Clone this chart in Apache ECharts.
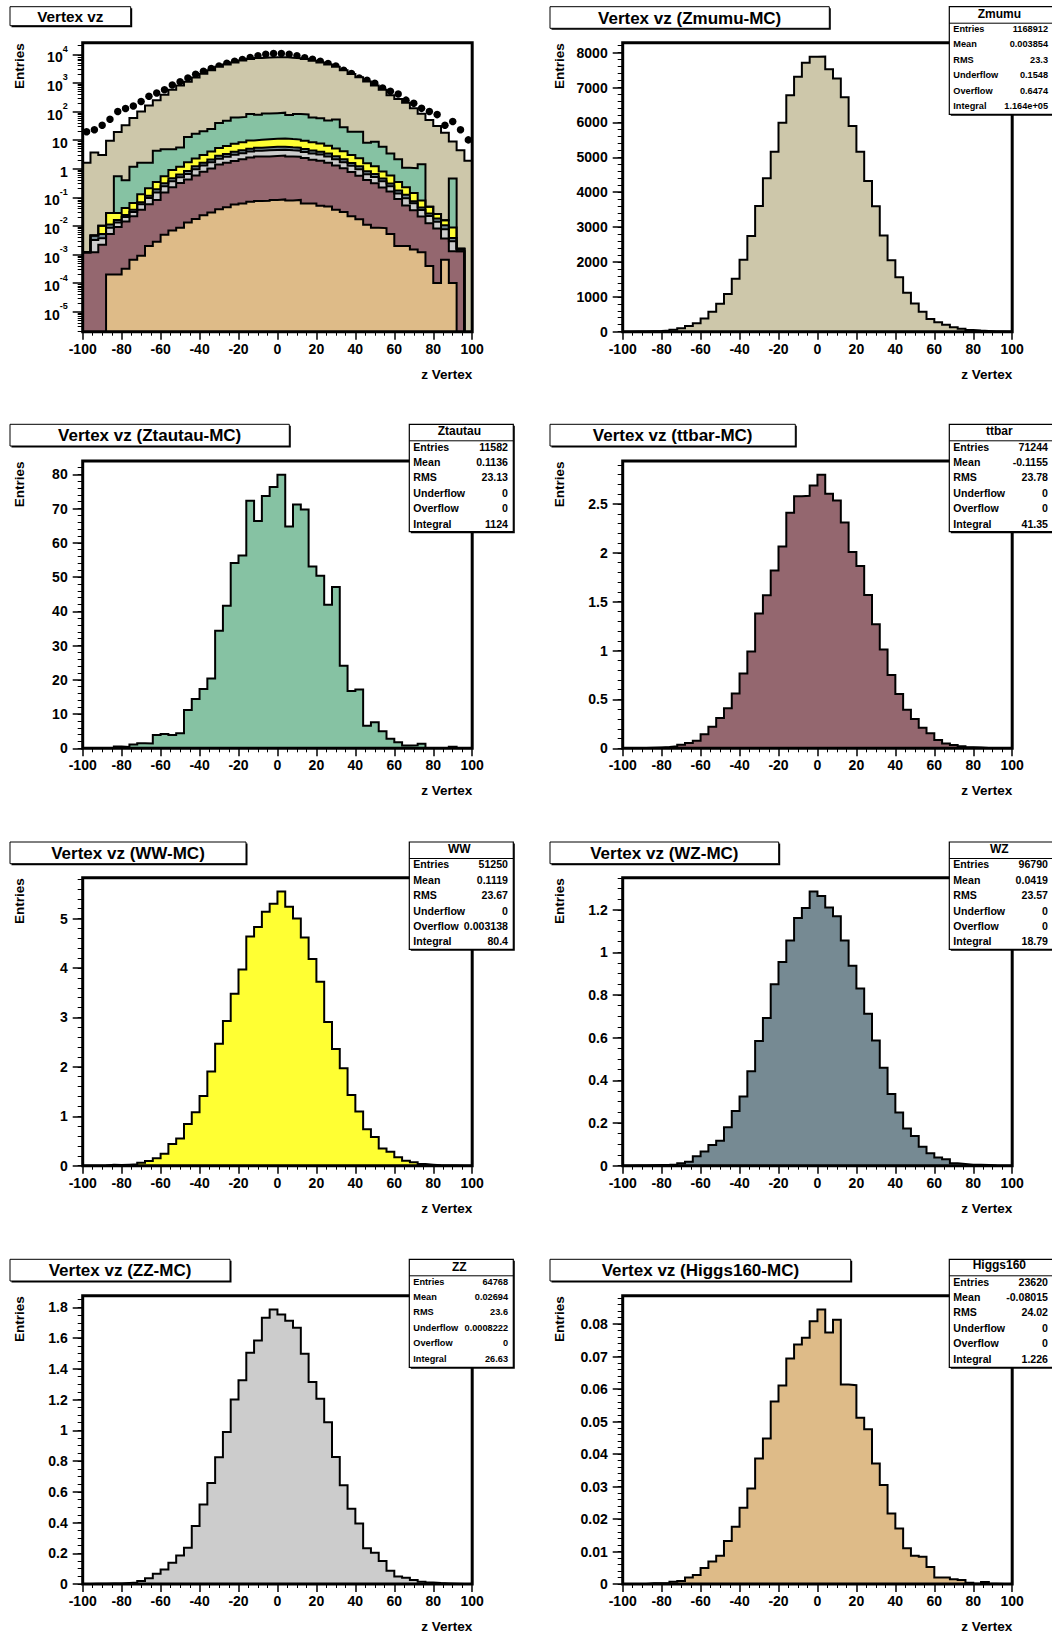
<!DOCTYPE html>
<html>
<head>
<meta charset="utf-8">
<title>Vertex vz</title>
<script src="https://cdn.jsdelivr.net/npm/echarts@6/dist/echarts.min.js"></script>
<style>
  html, body { margin: 0; padding: 0; background: #fff; }
  #main { width: 1052px; height: 1634px; }
</style>
</head>
<body>
<div id="main"></div>
<script>
// ---------- histogram binning (50 bins of 4 cm between -100 and 100) ----------
const BIN_EDGES = [-100,-96,-92,-88,-84,-80,-76,-72,-68,-64,-60,-56,-52,-48,-44,-40,-36,-32,-28,-24,
  -20,-16,-12,-8,-4,0,4,8,12,16,20,24,28,32,36,40,44,48,52,56,60,64,68,72,76,80,84,88,92,96,100];

// ---------- bin contents per sample ----------
const zmumu = [1.6,3.7,3.0,9.4,18.5,32.6,58,98,160,245,
  380,575,800,1080,1520,2065,2745,3605,4400,5160,
  5990,6780,7310,7710,7880,7890,7520,7260,6720,5900,
  5160,4320,3595,2760,2045,1560,1120,810,575,365,
  270,200,128,82,50,31,18,8.5,4.4,1.9];

const ztautau = [0,0,0,0,0.52,0.35,1.1,1.5,1.4,3.9,
  4.2,3.9,4.4,11.2,14.4,17.3,20.4,34.3,41.6,54.1,
  56.3,72.3,66.4,73.7,76.3,79.9,64.8,71.2,69.7,53.1,
  50.4,41.9,47.1,24.1,16.7,17.2,6.6,7.6,5.0,2.8,
  1.8,0.85,0.9,1.35,0,0,0,0.45,0,0];

const ttbar = [0.0012,0.0012,0.0022,0.005,0.009,0.014,0.021,0.036,0.055,0.078,
  0.143,0.22,0.31,0.41,0.56,0.765,0.99,1.38,1.565,1.82,
  2.065,2.41,2.58,2.585,2.69,2.80,2.605,2.535,2.31,2.01,
  1.865,1.57,1.27,1.01,0.75,0.555,0.395,0.30,0.21,0.153,
  0.085,0.05,0.034,0.02,0.012,0.008,0.003,0.0012,0.0013,0];

const ww = [0,0,0.005,0.017,0.012,0.018,0.027,0.06,0.095,0.15,
  0.24,0.44,0.55,0.845,1.08,1.41,1.905,2.47,2.93,3.48,
  3.97,4.64,4.83,5.14,5.30,5.55,5.24,5.0,4.62,4.18,
  3.72,2.91,2.36,1.97,1.43,1.095,0.74,0.58,0.35,0.28,
  0.17,0.10,0.07,0.033,0.019,0.008,0.005,0.005,0,0];

const wz = [0,0.0014,0.0015,0.0025,0.003,0.004,0.006,0.011,0.019,0.044,
  0.066,0.097,0.117,0.18,0.257,0.324,0.443,0.585,0.692,0.851,
  0.955,1.056,1.161,1.208,1.286,1.264,1.211,1.169,1.056,0.937,
  0.831,0.712,0.587,0.459,0.336,0.25,0.175,0.139,0.089,0.058,
  0.039,0.03,0.011,0.008,0.005,0.004,0.003,0.0009,0.0003,0];

const zz = [0,0.002,0.0015,0.0035,0.004,0.006,0.009,0.02,0.037,0.067,
  0.095,0.139,0.186,0.236,0.377,0.518,0.658,0.825,0.99,1.20,
  1.326,1.505,1.585,1.733,1.787,1.754,1.713,1.668,1.499,1.315,
  1.206,1.053,0.827,0.643,0.49,0.394,0.232,0.204,0.149,0.087,
  0.048,0.041,0.026,0.015,0.01,0.006,0.004,0.0016,0,0];

const higgs160 = [0,0,0,0.0002,0.0002,0.00032,0.00066,0.0009,0.002,0.0028,
  0.0049,0.0069,0.0087,0.0132,0.0176,0.0235,0.0294,0.0386,0.0448,0.0562,
  0.0611,0.0694,0.0737,0.0758,0.0809,0.0845,0.0774,0.0813,0.0614,0.0612,
  0.0512,0.0476,0.0371,0.0305,0.0217,0.0171,0.011,0.0087,0.0084,0.0052,
  0.002,0.002,0.0015,0.0012,0.0004,0.0001,0.00065,0.0001,0,0];

// observed events, drawn as markers on the stacked plot
const observed = [19.5,23,33,54,100,128,155,225,340,445,
  580,850,1100,1490,2000,2570,3170,3920,4870,5740,
  6590,7740,8880,10000,10700,10700,10100,8900,7530,6750,
  5740,4750,3910,2770,2120,1490,1230,970,665,510,
  410,250,193,129,100,78,33,45,23,10.2];

// ---------- statistics boxes ----------
const STAT_LABELS = ['Entries', 'Mean', 'RMS', 'Underflow', 'Overflow', 'Integral'];
const STATS_ZMUMU   = ['1168912', '0.003854', '23.3', '0.1548', '0.6474', '1.164e+05'];
const STATS_ZTAUTAU = ['11582', '0.1136', '23.13', '0', '0', '1124'];
const STATS_TTBAR   = ['71244', '-0.1155', '23.78', '0', '0', '41.35'];
const STATS_WW      = ['51250', '0.1119', '23.67', '0', '0.003138', '80.4'];
const STATS_WZ      = ['96790', '0.0419', '23.57', '0', '0', '18.79'];
const STATS_ZZ      = ['64768', '0.02694', '23.6', '0.0008222', '0', '26.63'];
const STATS_HIGGS   = ['23620', '-0.08015', '24.02', '0', '0', '1.226'];

// ---------- axis ticks ----------
const X_TICK_STEP = 20;
const LOG_TICKS = [1e-5, 1e-4, 1e-3, 1e-2, 1e-1, 1, 10, 100, 1000, 10000];
const LOG_RANGE = [2e-6, 2.55e4];

// ---------- style ----------
const FONT = '"Liberation Sans", Arial, Helvetica, sans-serif';
const COLORS = {
  zmumu: '#cdc7aa', ztautau: '#86c2a3', ttbar: '#94676f', ww: '#ffff33',
  wz: '#768a93', zz: '#cccccc', higgs160: '#debb88'
};

// ---------- layout (pixels) ----------
const COL_X = [82.7, 622.7];
const PLOT_W = 389.5;
const ROW_Y = [42.7, 461, 877.7, 1295.7];
const ROW_H = [289, 287.3, 288, 288.3];

// panel: row, column, title box [x0,y0,x1,y1,fontSize], stats box [x,y,w,h,fontSize,headerY]
const PANELS = [
  { row: 0, col: 0, title: 'Vertex vz', tbox: [10, 6.7, 130.7, 25.7, 15.3], log: true },
  { row: 0, col: 1, title: 'Vertex vz (Zmumu-MC)', tbox: [550, 6.7, 829.3, 28.3, 17],
    values: zmumu, color: COLORS.zmumu, step: 1000, minorDiv: 5,
    statName: 'Zmumu', stats: STATS_ZMUMU, sbox: [949.3, 6.7, 104, 107.6, 9.2, 7.5] },
  { row: 1, col: 0, title: 'Vertex vz (Ztautau-MC)', tbox: [10, 424.3, 289.3, 446, 17],
    values: ztautau, color: COLORS.ztautau, step: 10, minorDiv: 5,
    statName: 'Ztautau', stats: STATS_ZTAUTAU, sbox: [409.3, 424.3, 104, 107.4, 10.6, 7] },
  { row: 1, col: 1, title: 'Vertex vz (ttbar-MC)', tbox: [550, 424.3, 795.3, 446, 17],
    values: ttbar, color: COLORS.ttbar, step: 0.5, minorDiv: 5,
    statName: 'ttbar', stats: STATS_TTBAR, sbox: [949.3, 424.3, 104, 107.4, 10.6, 7] },
  { row: 2, col: 0, title: 'Vertex vz (WW-MC)', tbox: [10, 842, 246, 863.7, 17],
    values: ww, color: COLORS.ww, step: 1, minorDiv: 5,
    statName: 'WW', stats: STATS_WW, sbox: [409.3, 842, 104, 107.3, 10.6, 7] },
  { row: 2, col: 1, title: 'Vertex vz (WZ-MC)', tbox: [550, 842, 778.7, 863.7, 17],
    values: wz, color: COLORS.wz, step: 0.2, minorDiv: 4,
    statName: 'WZ', stats: STATS_WZ, sbox: [949.3, 842, 104, 107.3, 10.6, 7] },
  { row: 3, col: 0, title: 'Vertex vz (ZZ-MC)', tbox: [10, 1259.3, 230, 1281, 17],
    values: zz, color: COLORS.zz, step: 0.2, minorDiv: 4,
    statName: 'ZZ', stats: STATS_ZZ, sbox: [409.3, 1259.3, 104, 108, 9.2, 7.5] },
  { row: 3, col: 1, title: 'Vertex vz (Higgs160-MC)', tbox: [550, 1259.3, 850.7, 1281, 17],
    values: higgs160, color: COLORS.higgs160, step: 0.01, minorDiv: 5,
    statName: 'Higgs160', stats: STATS_HIGGS, sbox: [949.3, 1259.3, 104, 108, 10.6, 5.5] }
];

// stacking order for the combined plot (bottom first)
const STACK = [
  { values: higgs160, color: COLORS.higgs160 },
  { values: ttbar, color: COLORS.ttbar },
  { values: zz, color: COLORS.zz },
  { values: wz, color: COLORS.wz },
  { values: ww, color: COLORS.ww },
  { values: ztautau, color: COLORS.ztautau },
  { values: zmumu, color: COLORS.zmumu }
];

// ---------- helpers ----------
const round6 = v => Number(v.toFixed(7));
const BIN_CENTERS = BIN_EDGES.slice(0, -1).map((e, i) => (e + BIN_EDGES[i + 1]) / 2);

// step outline points: one point per left edge, plus the closing right edge
function stepPoints(vals, floor) {
  return BIN_EDGES.map((x, i) => {
    const v = vals[Math.min(i, vals.length - 1)];
    return [x, floor ? Math.max(v, floor) : v];
  });
}

function histSeries(vals, color, xi, yi, floor) {
  return {
    type: 'line', xAxisIndex: xi, yAxisIndex: yi,
    data: stepPoints(vals, floor), step: 'end', symbol: 'none', clip: true, silent: true,
    lineStyle: { color: '#000', width: 2, join: 'miter' },
    areaStyle: { color: color, opacity: 1, origin: 'start' }
  };
}

const labelStyle = { color: '#000', fontFamily: FONT, fontWeight: 'bold', fontSize: 14 };
const noLine = { show: false, onZero: false };

const grids = [], xAxes = [], yAxes = [], series = [], graphics = [];

PANELS.forEach((p, i) => {
  const left = COL_X[p.col], top = ROW_Y[p.row], h = ROW_H[p.row];
  grids.push({ left: left, top: top, width: PLOT_W, height: h, show: false, containLabel: false });

  xAxes.push({
    type: 'value', gridIndex: i, min: -100, max: 100, interval: X_TICK_STEP, position: 'bottom',
    axisLine: noLine, splitLine: { show: false },
    axisTick: { show: true, inside: false, length: 8, lineStyle: { color: '#000', width: 1.5 } },
    minorTick: { show: true, splitNumber: 4, length: 4, lineStyle: { color: '#000', width: 1 } },
    axisLabel: Object.assign({ margin: 10, showMinLabel: true, showMaxLabel: true }, labelStyle)
  });
});

// main value axes
PANELS.forEach((p, i) => {
  if (p.log) {
    yAxes.push({
      type: 'log', logBase: 10, gridIndex: i, min: LOG_RANGE[0], max: LOG_RANGE[1], position: 'left',
      axisLine: noLine, splitLine: { show: false },
      axisTick: { show: true, length: 10, customValues: LOG_TICKS, lineStyle: { color: '#000', width: 1.5 } },
      axisLabel: Object.assign({}, labelStyle, {
        margin: 15, customValues: LOG_TICKS,
        formatter: v => {
          const n = Math.round(Math.log10(v));
          if (n === 0) return '{b|1}';
          if (n === 1) return '{b|10}';
          return '{b|10}{s|' + n + '}';
        },
        rich: {
          b: { fontFamily: FONT, fontWeight: 'bold', fontSize: 14, lineHeight: 20, verticalAlign: 'bottom', color: '#000' },
          s: { fontFamily: FONT, fontWeight: 'bold', fontSize: 9, lineHeight: 9, verticalAlign: 'top', color: '#000' }
        }
      })
    });
  } else {
    const maxVal = Math.max.apply(null, p.values) * 1.05;
    const major = [];
    for (let k = 0; k * p.step <= maxVal + 1e-12; k++) major.push(round6(k * p.step));
    p._range = [0, maxVal];
    yAxes.push({
      type: 'value', gridIndex: i, min: 0, max: maxVal, position: 'left',
      axisLine: noLine, splitLine: { show: false },
      axisTick: { show: true, length: 10, customValues: major, lineStyle: { color: '#000', width: 1.5 } },
      axisLabel: Object.assign({}, labelStyle, {
        margin: 15, customValues: major, formatter: v => String(round6(v))
      })
    });
  }
});

// secondary axes carrying only the minor ticks
PANELS.forEach((p, i) => {
  const minor = [];
  if (p.log) {
    for (let n = -6; n <= 4; n++) {
      for (let k = 2; k <= 9; k++) {
        const v = Number((k * Math.pow(10, n)).toPrecision(3));
        if (v >= LOG_RANGE[0] && v <= LOG_RANGE[1]) minor.push(v);
      }
    }
  } else {
    const d = p.step / p.minorDiv;
    for (let k = 0; k * d <= p._range[1] + 1e-12; k++) minor.push(round6(k * d));
  }
  yAxes.push({
    type: p.log ? 'log' : 'value', logBase: 10, gridIndex: i,
    min: p.log ? LOG_RANGE[0] : p._range[0], max: p.log ? LOG_RANGE[1] : p._range[1],
    position: 'left', offset: 0, axisLine: noLine, splitLine: { show: false },
    axisLabel: { show: false },
    axisTick: { show: true, length: 5, customValues: minor, lineStyle: { color: '#000', width: 1 } }
  });
});

// ---------- series ----------
// combined plot: cumulative stack, largest drawn first so each smaller layer sits on top
let running = new Array(BIN_CENTERS.length).fill(0);
const cumulative = STACK.map(s => {
  running = running.map((r, b) => r + s.values[b]);
  return { values: running.slice(), color: s.color };
});
for (let k = cumulative.length - 1; k >= 0; k--) {
  series.push(histSeries(cumulative[k].values, cumulative[k].color, 0, 0, 1e-9));
}
series.push({
  type: 'scatter', xAxisIndex: 0, yAxisIndex: 0, silent: true,
  data: BIN_CENTERS.map((c, b) => [c, observed[b]]),
  symbol: 'circle', symbolSize: 7.5, itemStyle: { color: '#000', opacity: 1 }
});

PANELS.forEach((p, i) => {
  if (!p.log) series.push(histSeries(p.values, p.color, i, i));
});

// ---------- frames, titles, statistics boxes ----------
function shadowBox(x, y, w, h, z, lw) {
  return [
    { type: 'rect', z: z, silent: true, shape: { x: x + 1.5, y: y + 1.5, width: w, height: h }, style: { fill: '#000' } },
    { type: 'rect', z: z + 1, silent: true, shape: { x: x, y: y, width: w, height: h }, style: { fill: '#fff', stroke: '#000', lineWidth: lw } }
  ];
}
function text(str, x, y, size, align, vAlign, z, rotation) {
  return {
    type: 'text', z: z, silent: true, x: x, y: y, rotation: rotation || 0,
    style: {
      text: str, fill: '#000', font: 'bold ' + size + 'px ' + FONT,
      textAlign: align, textVerticalAlign: vAlign, align: align, verticalAlign: vAlign
    }
  };
}

PANELS.forEach((p, i) => {
  const left = COL_X[p.col], top = ROW_Y[p.row], h = ROW_H[p.row];
  // plot frame
  graphics.push({ type: 'rect', z: 100, silent: true,
    shape: { x: left, y: top, width: PLOT_W, height: h },
    style: { fill: 'none', stroke: '#000', lineWidth: 3 } });
  // axis titles
  graphics.push(text('Entries', p.col === 0 ? 19 : 559, top + 0.5, 13.5, 'right', 'middle', 100, Math.PI / 2));
  graphics.push(text('z Vertex', left + PLOT_W, top + h + 42.5, 13.5, 'right', 'middle', 100));
  // title box
  const t = p.tbox;
  graphics.push.apply(graphics, shadowBox(t[0], t[1], t[2] - t[0], t[3] - t[1], 120, 1));
  graphics.push(text(p.title, (t[0] + t[2]) / 2, (t[1] + t[3]) / 2 + 0.5, t[4], 'center', 'middle', 122));
  // statistics box
  if (p.stats) {
    const s = p.sbox, x = s[0], y = s[1], w = s[2], bh = s[3], fs = s[4];
    graphics.push.apply(graphics, shadowBox(x, y, w, bh, 130, 1.2));
    graphics.push({ type: 'line', z: 132, silent: true,
      shape: { x1: x, y1: y + 16.5, x2: x + w, y2: y + 16.5 },
      style: { stroke: '#000', lineWidth: 1 } });
    graphics.push(text(p.statName, x + 50, y + s[5], 12, 'center', 'middle', 133));
    STAT_LABELS.forEach((lab, r) => {
      const ry = y + 22.3 + r * 15.4;
      graphics.push(text(lab, x + 4, ry, fs, 'left', 'middle', 133));
      graphics.push(text(p.stats[r], x + 98.7, ry, fs, 'right', 'middle', 133));
    });
  }
});

const chart = echarts.init(document.getElementById('main'), null, { renderer: 'svg', width: 1052, height: 1634 });
chart.setOption({
  backgroundColor: '#ffffff',
  animation: false,
  grid: grids,
  xAxis: xAxes,
  yAxis: yAxes,
  series: series,
  graphic: { elements: graphics }
});
</script>
</body>
</html>
